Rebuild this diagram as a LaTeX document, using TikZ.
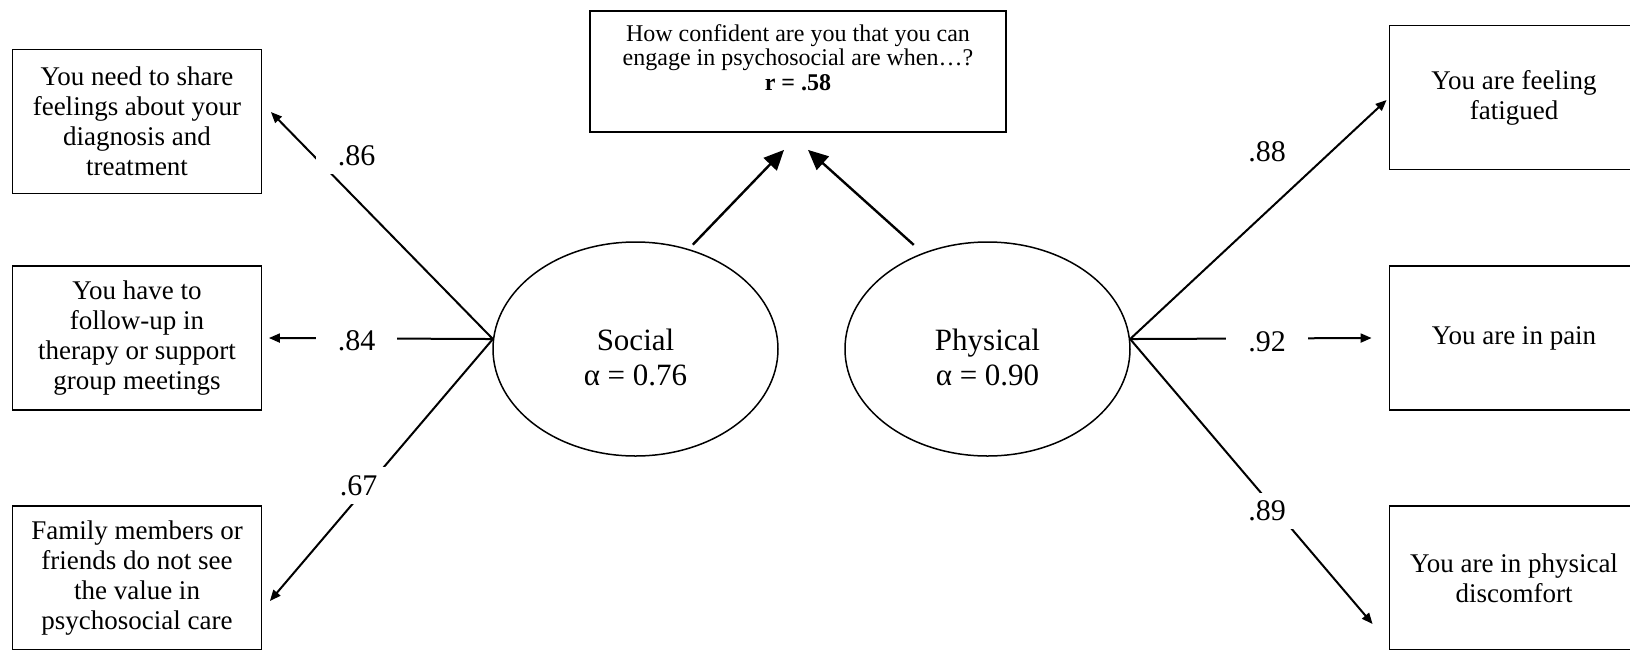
\documentclass[tikz,border=0pt]{standalone}
\usepackage{fontspec}
\setmainfont{Liberation Serif}
\usetikzlibrary{arrows.meta,calc,shapes.geometric}
\begin{document}
\begin{tikzpicture}[x=0.5pt,y=-0.5pt,
  item/.style={draw,line width=0.9pt,align=center,minimum width=124.5pt,minimum height=72pt,inner sep=0pt,font=\fontsize{13.5}{15}\selectfont},
  factor/.style={draw,ellipse,line width=0.75pt,align=center,minimum width=142.5pt,minimum height=107pt,inner sep=0pt,text height=37pt,font=\fontsize{15.5}{17.5}\selectfont},
  coef/.style={fill=white,inner xsep=11pt,inner ysep=4pt,font=\fontsize{15}{15}\selectfont},
  load/.style={line width=1pt,-{Triangle[length=5.5pt,width=4.5pt]}},
  corr/.style={line width=1.2pt,-{Triangle[length=10pt,width=9pt]}}]
\useasboundingbox (0,0) rectangle (1630,649);
\clip (0,0) rectangle (1630,649);
\node[item,minimum width=208pt,minimum height=60.5pt,text depth=14pt,font=\fontsize{12}{12.2}\selectfont] (question) at (798,71.5) {How confident are you that you can\\engage in psychosocial are when…?\\\textbf{r = .58}};
\node[item] (share) at (137,121.5) {You need to share\\feelings about your\\diagnosis and\\treatment};
\node[item] (followup) at (137,338) {You have to\\follow-up in\\therapy or support\\group meetings};
\node[item] (family) at (137,578) {Family members or\\friends do not see\\the value in\\psychosocial care};
\node[item] (fatigued) at (1514,97.5) {You are feeling\\fatigued};
\node[item] (pain) at (1514,338) {You are in pain};
\node[item] (discomfort) at (1514,578) {You are in physical\\discomfort};
\node[factor] (social) at (635.5,349) {Social\\α = 0.76};
\node[factor] (physical) at (987.5,349) {Physical\\α = 0.90};
\draw[load] (social.176) -- ($(share.east)+(8.5,-9.5)$);
\draw[load] (social.176) -- ($(followup.east)+(6.5,0)$);
\draw[load] (social.176) -- ($(family.east)+(7.5,23)$);
\draw[load] (physical.4) -- ($(fatigued.west)+(-2,2.5)$);
\draw[load] (physical.4) -- ($(pain.west)+(-17,0)$);
\draw[load] (physical.4) -- ($(discomfort.west)+(-16,46)$);
\draw[corr,shorten <=3pt] (social.62) -- ($(question.south)+(-14,17)$);
\draw[corr,shorten <=6pt] (physical.124) -- ($(question.south)+(10,17)$);
\node[coef] (lshare) at (356.5,156) {.86};
\node[coef] (lfollowup) at (356.5,341) {.84};
\node[coef] (lfamily) at (358.5,485.5) {.67};
\node[coef] (lfatigued) at (1267,152) {.88};
\node[coef] (lpain) at (1267,342) {.92};
\node[coef] (ldiscomfort) at (1267,511) {.89};
\end{tikzpicture}
\end{document}
